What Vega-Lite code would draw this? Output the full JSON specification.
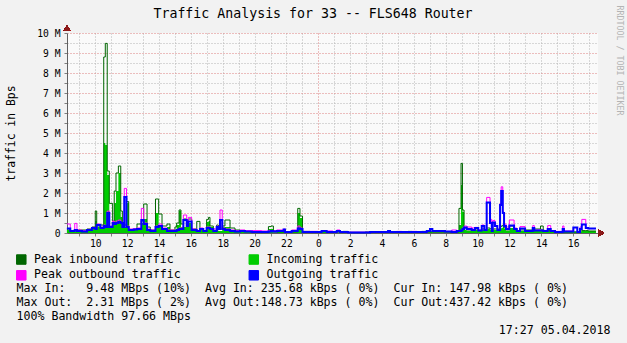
{
  "$schema": "https://vega.github.io/schema/vega-lite/v6.json",
  "width": 531,
  "height": 200,
  "autosize": "none",
  "padding": {"left": 67, "top": 33, "right": 29, "bottom": 110},
  "background": "#F2F2F2",
  "title": {
    "text": "Traffic Analysis for 33 -- FLS648 Router",
    "font": "DejaVu Sans Mono",
    "fontSize": 13.25,
    "fontWeight": "normal",
    "color": "#000000",
    "anchor": "middle",
    "frame": "group",
    "dx": -19.5,
    "offset": -26.5,
    "baseline": "alphabetic"
  },
  "config": {
    "font": "DejaVu Sans Mono",
    "view": {"stroke": null, "fill": "#FAFAFA"},
    "legend": {
      "orient": "none",
      "legendX": -51.5,
      "legendY": 220.5,
      "columns": 2,
      "columnPadding": 65.5,
      "rowPadding": 2,
      "symbolType": "square",
      "symbolSize": 90,
      "symbolStrokeColor": "#000000",
      "symbolStrokeWidth": 1,
      "labelFont": "DejaVu Sans Mono",
      "labelFontSize": 11.6,
      "labelColor": "#000000",
      "labelOffset": 7,
      "labelLimit": 300,
      "title": null
    }
  },
  "data": {
    "values": [
      {"h": 8.22, "inc": 0.15, "inpk": 0.2, "out": 0.23, "outpk": 0.45},
      {"h": 8.43, "inc": 0.08, "inpk": 0.12, "out": 0.1, "outpk": 0.12},
      {"h": 8.71, "inc": 0.08, "inpk": 0.12, "out": 0.15, "outpk": 0.48},
      {"h": 8.85, "inc": 0.1, "inpk": 0.15, "out": 0.1, "outpk": 0.15},
      {"h": 9.17, "inc": 0.1, "inpk": 0.15, "out": 0.08, "outpk": 0.12},
      {"h": 9.48, "inc": 0.15, "inpk": 0.2, "out": 0.15, "outpk": 0.18},
      {"h": 9.79, "inc": 0.2, "inpk": 0.3, "out": 0.25, "outpk": 0.28},
      {"h": 10.0, "inc": 0.6, "inpk": 1.1, "out": 0.2, "outpk": 0.25},
      {"h": 10.09, "inc": 0.3, "inpk": 0.35, "out": 0.4, "outpk": 0.45},
      {"h": 10.32, "inc": 0.3, "inpk": 0.4, "out": 0.25, "outpk": 0.3},
      {"h": 10.53, "inc": 4.5, "inpk": 8.8, "out": 0.35, "outpk": 0.4},
      {"h": 10.63, "inc": 4.4, "inpk": 9.48, "out": 0.3, "outpk": 0.35},
      {"h": 10.75, "inc": 2.9, "inpk": 3.1, "out": 1.0, "outpk": 1.1},
      {"h": 10.88, "inc": 0.35, "inpk": 1.48, "out": 0.3, "outpk": 0.35},
      {"h": 11.09, "inc": 0.5, "inpk": 0.6, "out": 0.5, "outpk": 0.6},
      {"h": 11.19, "inc": 1.5, "inpk": 2.1, "out": 0.45, "outpk": 0.5},
      {"h": 11.3, "inc": 2.1, "inpk": 3.0, "out": 0.5, "outpk": 0.6},
      {"h": 11.45, "inc": 3.0, "inpk": 3.35, "out": 0.55, "outpk": 0.65},
      {"h": 11.6, "inc": 0.8, "inpk": 1.1, "out": 0.5, "outpk": 0.55},
      {"h": 11.7, "inc": 0.3, "inpk": 0.4, "out": 0.3, "outpk": 0.35},
      {"h": 11.82, "inc": 0.3, "inpk": 0.4, "out": 1.8, "outpk": 2.23},
      {"h": 11.96, "inc": 1.5, "inpk": 1.57, "out": 0.3, "outpk": 0.35},
      {"h": 12.1, "inc": 0.1, "inpk": 0.15, "out": 0.15, "outpk": 0.2},
      {"h": 12.41, "inc": 0.15, "inpk": 0.2, "out": 0.18, "outpk": 0.22},
      {"h": 12.62, "inc": 0.2, "inpk": 0.45, "out": 0.2, "outpk": 0.25},
      {"h": 12.89, "inc": 0.5, "inpk": 0.6, "out": 0.65, "outpk": 1.23},
      {"h": 13.04, "inc": 0.7, "inpk": 1.45, "out": 0.45, "outpk": 0.5},
      {"h": 13.25, "inc": 0.1, "inpk": 0.3, "out": 0.15, "outpk": 0.2},
      {"h": 13.45, "inc": 0.1, "inpk": 0.15, "out": 0.1, "outpk": 0.15},
      {"h": 13.78, "inc": 1.0, "inpk": 1.7, "out": 0.3, "outpk": 0.35},
      {"h": 13.98, "inc": 0.4, "inpk": 0.95, "out": 0.35, "outpk": 0.45},
      {"h": 14.19, "inc": 0.2, "inpk": 0.35, "out": 0.2, "outpk": 0.25},
      {"h": 14.5, "inc": 0.3, "inpk": 0.45, "out": 0.1, "outpk": 0.15},
      {"h": 14.69, "inc": 0.1, "inpk": 0.15, "out": 0.1, "outpk": 0.15},
      {"h": 15.0, "inc": 0.15, "inpk": 0.3, "out": 0.1, "outpk": 0.12},
      {"h": 15.11, "inc": 0.4, "inpk": 0.5, "out": 0.15, "outpk": 0.18},
      {"h": 15.26, "inc": 1.1, "inpk": 1.15, "out": 0.2, "outpk": 0.25},
      {"h": 15.38, "inc": 0.3, "inpk": 0.45, "out": 0.2, "outpk": 0.25},
      {"h": 15.53, "inc": 0.3, "inpk": 0.7, "out": 0.65, "outpk": 0.9},
      {"h": 15.74, "inc": 0.3, "inpk": 0.5, "out": 0.35, "outpk": 0.4},
      {"h": 15.84, "inc": 0.5, "inpk": 0.7, "out": 0.57, "outpk": 0.78},
      {"h": 16.05, "inc": 0.15, "inpk": 0.2, "out": 0.15, "outpk": 0.2},
      {"h": 16.37, "inc": 0.1, "inpk": 0.58, "out": 0.1, "outpk": 0.12},
      {"h": 16.57, "inc": 0.15, "inpk": 0.2, "out": 0.2, "outpk": 0.25},
      {"h": 16.78, "inc": 0.1, "inpk": 0.12, "out": 0.1, "outpk": 0.12},
      {"h": 16.99, "inc": 0.55, "inpk": 0.68, "out": 0.25, "outpk": 0.3},
      {"h": 17.11, "inc": 0.6, "inpk": 0.78, "out": 0.25, "outpk": 0.3},
      {"h": 17.2, "inc": 0.3, "inpk": 0.35, "out": 0.2, "outpk": 0.2},
      {"h": 17.41, "inc": 0.1, "inpk": 0.12, "out": 0.1, "outpk": 0.2},
      {"h": 17.62, "inc": 0.35, "inpk": 0.4, "out": 0.3, "outpk": 0.35},
      {"h": 17.72, "inc": 0.1, "inpk": 0.35, "out": 0.2, "outpk": 0.25},
      {"h": 17.83, "inc": 0.1, "inpk": 0.2, "out": 0.65, "outpk": 1.15},
      {"h": 17.97, "inc": 0.3, "inpk": 0.35, "out": 0.2, "outpk": 0.25},
      {"h": 18.14, "inc": 0.3, "inpk": 0.65, "out": 0.15, "outpk": 0.2},
      {"h": 18.46, "inc": 0.15, "inpk": 0.25, "out": 0.1, "outpk": 0.15},
      {"h": 18.77, "inc": 0.1, "inpk": 0.15, "out": 0.08, "outpk": 0.12},
      {"h": 19.09, "inc": 0.1, "inpk": 0.12, "out": 0.1, "outpk": 0.15},
      {"h": 19.4, "inc": 0.05, "inpk": 0.08, "out": 0.08, "outpk": 0.12},
      {"h": 19.82, "inc": 0.05, "inpk": 0.07, "out": 0.05, "outpk": 0.12},
      {"h": 20.45, "inc": 0.05, "inpk": 0.06, "out": 0.05, "outpk": 0.1},
      {"h": 20.87, "inc": 0.2, "inpk": 0.32, "out": 0.08, "outpk": 0.12},
      {"h": 21.03, "inc": 0.2, "inpk": 0.35, "out": 0.1, "outpk": 0.12},
      {"h": 21.18, "inc": 0.03, "inpk": 0.05, "out": 0.08, "outpk": 0.12},
      {"h": 21.39, "inc": 0.05, "inpk": 0.06, "out": 0.1, "outpk": 0.15},
      {"h": 21.82, "inc": 0.05, "inpk": 0.06, "out": 0.18, "outpk": 0.2},
      {"h": 21.91, "inc": 0.03, "inpk": 0.04, "out": 0.05, "outpk": 0.06},
      {"h": 22.33, "inc": 0.05, "inpk": 0.06, "out": 0.1, "outpk": 0.15},
      {"h": 22.71, "inc": 1.0, "inpk": 1.23, "out": 0.23, "outpk": 0.35},
      {"h": 22.85, "inc": 0.75, "inpk": 0.85, "out": 0.2, "outpk": 0.25},
      {"h": 23.01, "inc": 0.05, "inpk": 0.08, "out": 0.05, "outpk": 0.08},
      {"h": 23.48, "inc": 0.03, "inpk": 0.05, "out": 0.05, "outpk": 0.08},
      {"h": 23.98, "inc": 0.03, "inpk": 0.04, "out": 0.05, "outpk": 0.05},
      {"h": 24.21, "inc": 0.08, "inpk": 0.1, "out": 0.1, "outpk": 0.1},
      {"h": 24.53, "inc": 0.03, "inpk": 0.04, "out": 0.05, "outpk": 0.06},
      {"h": 24.61, "inc": 0.03, "inpk": 0.04, "out": 0.05, "outpk": 0.1},
      {"h": 24.92, "inc": 0.03, "inpk": 0.04, "out": 0.05, "outpk": 0.06},
      {"h": 25.16, "inc": 0.03, "inpk": 0.05, "out": 0.1, "outpk": 0.15},
      {"h": 25.36, "inc": 0.03, "inpk": 0.04, "out": 0.05, "outpk": 0.06},
      {"h": 25.55, "inc": 0.05, "inpk": 0.08, "out": 0.05, "outpk": 0.06},
      {"h": 25.86, "inc": 0.02, "inpk": 0.03, "out": 0.03, "outpk": 0.04},
      {"h": 26.93, "inc": 0.03, "inpk": 0.05, "out": 0.03, "outpk": 0.04},
      {"h": 27.25, "inc": 0.02, "inpk": 0.03, "out": 0.05, "outpk": 0.05},
      {"h": 28.38, "inc": 0.02, "inpk": 0.03, "out": 0.1, "outpk": 0.1},
      {"h": 28.5, "inc": 0.02, "inpk": 0.03, "out": 0.05, "outpk": 0.05},
      {"h": 28.92, "inc": 0.03, "inpk": 0.05, "out": 0.05, "outpk": 0.08},
      {"h": 29.24, "inc": 0.02, "inpk": 0.03, "out": 0.05, "outpk": 0.05},
      {"h": 29.63, "inc": 0.04, "inpk": 0.08, "out": 0.05, "outpk": 0.05},
      {"h": 29.88, "inc": 0.02, "inpk": 0.03, "out": 0.05, "outpk": 0.08},
      {"h": 30.2, "inc": 0.02, "inpk": 0.03, "out": 0.05, "outpk": 0.05},
      {"h": 30.49, "inc": 0.04, "inpk": 0.08, "out": 0.05, "outpk": 0.05},
      {"h": 30.81, "inc": 0.03, "inpk": 0.04, "out": 0.1, "outpk": 0.1},
      {"h": 31.01, "inc": 0.05, "inpk": 0.06, "out": 0.2, "outpk": 0.22},
      {"h": 31.16, "inc": 0.03, "inpk": 0.04, "out": 0.1, "outpk": 0.1},
      {"h": 31.64, "inc": 0.03, "inpk": 0.04, "out": 0.1, "outpk": 0.12},
      {"h": 31.95, "inc": 0.03, "inpk": 0.04, "out": 0.08, "outpk": 0.08},
      {"h": 32.37, "inc": 0.03, "inpk": 0.04, "out": 0.05, "outpk": 0.15},
      {"h": 32.69, "inc": 0.05, "inpk": 0.06, "out": 0.1, "outpk": 0.12},
      {"h": 32.83, "inc": 0.4, "inpk": 1.23, "out": 0.1, "outpk": 0.12},
      {"h": 32.96, "inc": 2.4, "inpk": 3.48, "out": 0.12, "outpk": 0.15},
      {"h": 33.05, "inc": 1.05, "inpk": 1.15, "out": 0.2, "outpk": 0.25},
      {"h": 33.15, "inc": 0.15, "inpk": 0.25, "out": 0.28, "outpk": 0.35},
      {"h": 33.32, "inc": 0.1, "inpk": 0.15, "out": 0.2, "outpk": 0.3},
      {"h": 33.63, "inc": 0.1, "inpk": 0.15, "out": 0.15, "outpk": 0.25},
      {"h": 33.84, "inc": 0.15, "inpk": 0.2, "out": 0.25, "outpk": 0.28},
      {"h": 34.04, "inc": 0.1, "inpk": 0.12, "out": 0.12, "outpk": 0.15},
      {"h": 34.26, "inc": 0.15, "inpk": 0.2, "out": 0.35, "outpk": 0.4},
      {"h": 34.42, "inc": 0.15, "inpk": 0.18, "out": 0.15, "outpk": 0.15},
      {"h": 34.57, "inc": 0.2, "inpk": 0.25, "out": 1.53, "outpk": 1.78},
      {"h": 34.78, "inc": 0.15, "inpk": 0.2, "out": 0.5, "outpk": 0.68},
      {"h": 34.89, "inc": 0.1, "inpk": 0.12, "out": 0.1, "outpk": 0.15},
      {"h": 34.95, "inc": 0.15, "inpk": 0.2, "out": 0.52, "outpk": 0.62},
      {"h": 35.09, "inc": 0.15, "inpk": 0.2, "out": 0.35, "outpk": 0.38},
      {"h": 35.24, "inc": 0.15, "inpk": 0.2, "out": 0.15, "outpk": 0.18},
      {"h": 35.41, "inc": 0.2, "inpk": 0.3, "out": 1.4, "outpk": 1.48},
      {"h": 35.48, "inc": 0.25, "inpk": 0.35, "out": 2.1, "outpk": 2.31},
      {"h": 35.58, "inc": 0.3, "inpk": 0.4, "out": 1.0, "outpk": 1.05},
      {"h": 35.66, "inc": 0.2, "inpk": 0.25, "out": 0.35, "outpk": 0.45},
      {"h": 35.78, "inc": 0.1, "inpk": 0.15, "out": 0.2, "outpk": 0.3},
      {"h": 35.99, "inc": 0.25, "inpk": 0.35, "out": 0.37, "outpk": 0.65},
      {"h": 36.29, "inc": 0.15, "inpk": 0.2, "out": 0.2, "outpk": 0.25},
      {"h": 36.46, "inc": 0.1, "inpk": 0.12, "out": 0.1, "outpk": 0.1},
      {"h": 36.66, "inc": 0.1, "inpk": 0.15, "out": 0.23, "outpk": 0.32},
      {"h": 36.98, "inc": 0.12, "inpk": 0.15, "out": 0.1, "outpk": 0.12},
      {"h": 37.46, "inc": 0.12, "inpk": 0.15, "out": 0.25, "outpk": 0.37},
      {"h": 37.56, "inc": 0.15, "inpk": 0.2, "out": 0.12, "outpk": 0.15},
      {"h": 37.95, "inc": 0.2, "inpk": 0.35, "out": 0.12, "outpk": 0.15},
      {"h": 38.12, "inc": 0.1, "inpk": 0.12, "out": 0.1, "outpk": 0.12},
      {"h": 38.4, "inc": 0.1, "inpk": 0.12, "out": 0.2, "outpk": 0.37},
      {"h": 38.59, "inc": 0.08, "inpk": 0.1, "out": 0.1, "outpk": 0.12},
      {"h": 38.86, "inc": 0.02, "inpk": 0.04, "out": 0.05, "outpk": 0.08},
      {"h": 39.34, "inc": 0.05, "inpk": 0.06, "out": 0.2, "outpk": 0.35},
      {"h": 39.42, "inc": 0.05, "inpk": 0.06, "out": 0.07, "outpk": 0.1},
      {"h": 40.01, "inc": 0.05, "inpk": 0.06, "out": 0.27, "outpk": 0.27},
      {"h": 40.26, "inc": 0.03, "inpk": 0.04, "out": 0.05, "outpk": 0.06},
      {"h": 40.43, "inc": 0.08, "inpk": 0.1, "out": 0.2, "outpk": 0.3},
      {"h": 40.54, "inc": 0.1, "inpk": 0.12, "out": 0.43, "outpk": 0.68},
      {"h": 40.79, "inc": 0.1, "inpk": 0.12, "out": 0.25, "outpk": 0.25},
      {"h": 40.95, "inc": 0.1, "inpk": 0.1, "out": 0.22, "outpk": 0.22},
      {"h": 41.43, "inc": 0.1, "inpk": 0.1, "out": 0.22, "outpk": 0.22}
    ]
  },
  "resolve": {"axis": {"x": "independent", "y": "independent"}},
  "layer": [
    {
      "mark": {"type": "area", "interpolate": "step-after", "opacity": 1},
      "encoding": {
        "x": {
          "field": "h",
          "type": "quantitative",
          "scale": {"domain": [8.225, 41.558], "nice": false, "zero": false},
          "axis": {
            "values": [9,10,11,12,13,14,15,16,17,18,19,20,21,22,23,24,25,26,27,28,29,30,31,32,33,34,35,36,37,38,39,40,41],
            "labelExpr": "datum.value % 2 === 0 ? '' + (datum.value % 24) : ''",
            "labelFont": "DejaVu Sans Mono",
            "labelFontSize": 9.7,
            "labelColor": "#000000",
            "labelPadding": 2,
            "labelFlush": false,
            "labelOverlap": false,
            "tickSize": 3,
            "tickColor": "#808080",
            "domainColor": "#606060",
            "grid": true,
            "gridDash": [1, 2],
            "gridColor": {"condition": {"test": "datum.value === 24", "value": "#DD8080"}, "value": "#B4B4B4"},
            "title": [
              "Max\u00a0In:\u00a0\u00a0\u00a09.48\u00a0MBps\u00a0(10%)\u00a0\u00a0Avg\u00a0In:\u00a0235.68\u00a0kBps\u00a0(\u00a00%)\u00a0\u00a0Cur\u00a0In:\u00a0147.98\u00a0kBps\u00a0(\u00a00%)",
              "Max\u00a0Out:\u00a0\u00a02.31\u00a0MBps\u00a0(\u00a02%)\u00a0\u00a0Avg\u00a0Out:148.73\u00a0kBps\u00a0(\u00a00%)\u00a0\u00a0Cur\u00a0Out:437.42\u00a0kBps\u00a0(\u00a00%)",
              "100%\u00a0Bandwidth\u00a097.66\u00a0MBps"
            ],
            "titleFont": "DejaVu Sans Mono",
            "titleFontSize": 11.6,
            "titleFontWeight": "normal",
            "titleColor": "#000000",
            "titleAnchor": "start",
            "titleAlign": "left",
            "titleBaseline": "alphabetic",
            "titleLineHeight": 14,
            "titleX": -51,
            "titleY": 58.5
          }
        },
        "y": {
          "field": "inc",
          "type": "quantitative",
          "scale": {"domain": [0, 10], "nice": false},
          "axis": {
            "values": [0,0.5,1,1.5,2,2.5,3,3.5,4,4.5,5,5.5,6,6.5,7,7.5,8,8.5,9,9.5,10],
            "labelExpr": "datum.value % 1 === 0 ? (datum.value === 0 ? '0\u00a0\u00a0' : datum.value + '\u00a0M') : ''",
            "labelFont": "DejaVu Sans Mono",
            "labelFontSize": 9.7,
            "labelColor": "#000000",
            "labelPadding": 4,
            "labelFlush": false,
            "labelOverlap": false,
            "tickSize": 3,
            "tickColor": "#808080",
            "domainColor": "#606060",
            "grid": true,
            "gridDash": [1, 2],
            "gridColor": {"condition": {"test": "datum.value % 1 === 0", "value": "#DD8080"}, "value": "#B4B4B4"},
            "title": "traffic in Bps",
            "titleFont": "DejaVu Sans Mono",
            "titleFontSize": 11.4,
            "titleFontWeight": "normal",
            "titleColor": "#000000",
            "titleAngle": -90,
            "titleAlign": "center",
            "titleBaseline": "middle",
            "titleX": -56,
            "titleY": 100
          }
        },
        "color": {
          "datum": "Incoming traffic",
          "type": "nominal",
          "scale": {
            "domain": ["Peak inbound traffic", "Peak outbound traffic", "Incoming traffic", "Outgoing traffic"],
            "range": ["#006600", "#FF00FF", "#00CC00", "#0000FF"]
          },
          "legend": {
            "encode": {
              "symbols": {
                "update": {
                  "fill": {"scale": "color", "field": "value"},
                  "stroke": {"value": "#000000"},
                  "strokeWidth": {"value": 1},
                  "opacity": {"value": 1},
                  "shape": {"value": "square"}
                }
              }
            }
          }
        }
      }
    },
    {
      "mark": {"type": "line", "interpolate": "step-after", "strokeWidth": 1},
      "encoding": {
        "x": {"field": "h", "type": "quantitative", "axis": null},
        "y": {"field": "inpk", "type": "quantitative", "axis": null},
        "color": {"datum": "Peak inbound traffic", "type": "nominal"}
      }
    },
    {
      "mark": {"type": "line", "interpolate": "step-after", "strokeWidth": 1},
      "encoding": {
        "x": {"field": "h", "type": "quantitative", "axis": null},
        "y": {"field": "outpk", "type": "quantitative", "axis": null},
        "color": {"datum": "Peak outbound traffic", "type": "nominal"}
      }
    },
    {
      "mark": {"type": "line", "interpolate": "step-after", "strokeWidth": 2},
      "encoding": {
        "x": {
          "field": "h",
          "type": "quantitative",
          "axis": {
            "orient": "top",
            "domain": false,
            "ticks": false,
            "labels": false,
            "grid": false,
            "title": "17:27 05.04.2018",
            "titleFont": "DejaVu Sans Mono",
            "titleFontSize": 11.6,
            "titleFontWeight": "normal",
            "titleColor": "#000000",
            "titleAnchor": "end",
            "titleAlign": "right",
            "titleBaseline": "alphabetic",
            "titleX": 543,
            "titleY": 300.5
          }
        },
        "y": {
          "field": "out",
          "type": "quantitative",
          "axis": {
            "orient": "right",
            "domain": false,
            "ticks": false,
            "labels": false,
            "grid": false,
            "title": "RRDTOOL / TOBI OETIKER",
            "titleFont": "DejaVu Sans Mono",
            "titleFontSize": 8.3,
            "titleFontWeight": "normal",
            "titleColor": "#B4B4B4",
            "titleAngle": 90,
            "titleAlign": "center",
            "titleBaseline": "middle",
            "titleX": 20.3,
            "titleY": 27
          }
        },
        "color": {"datum": "Outgoing traffic", "type": "nominal"}
      }
    },
    {
      "mark": {"type": "point", "shape": "triangle-up", "filled": true, "size": 40, "color": "#8B1A1A", "opacity": 1, "clip": false},
      "encoding": {
        "x": {"datum": 8.225, "type": "quantitative", "axis": null},
        "y": {"datum": 10.25, "type": "quantitative", "axis": null}
      }
    },
    {
      "mark": {"type": "point", "shape": "triangle-right", "filled": true, "size": 40, "color": "#8B1A1A", "opacity": 1, "clip": false},
      "encoding": {
        "x": {"datum": 41.76, "type": "quantitative", "axis": null},
        "y": {"datum": 0, "type": "quantitative", "axis": null}
      }
    }
  ]
}
